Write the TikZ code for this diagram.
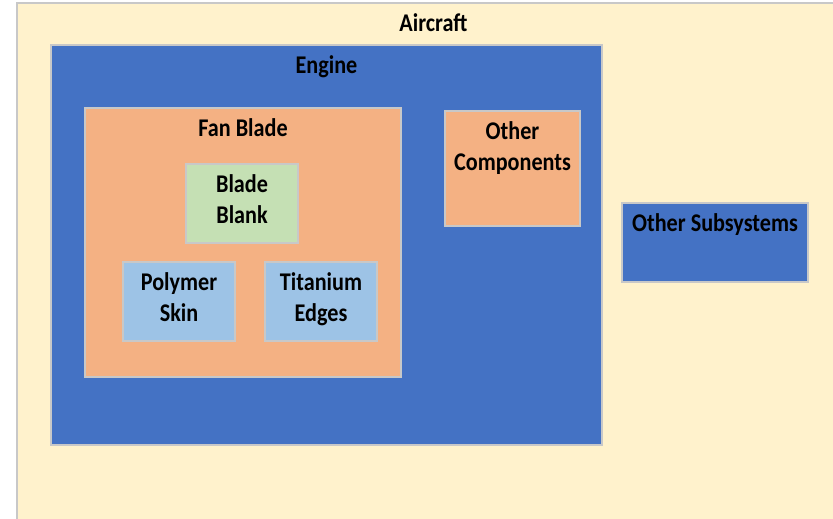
\documentclass[tikz,border=0pt]{standalone}
\usepackage{fontspec}
\setmainfont{Carlito}[FakeStretch=0.87]
\usepackage{xcolor}
\definecolor{accream}{RGB}{255,242,204}
\definecolor{acblue}{RGB}{68,114,196}
\definecolor{acorange}{RGB}{244,177,131}
\definecolor{acgreen}{RGB}{197,224,180}
\definecolor{aclightblue}{RGB}{157,195,230}
\definecolor{acedge}{RGB}{200,200,200}
\usetikzlibrary{positioning}

\tikzset{
  partbox/.style={draw=acedge,line width=0.6pt,rectangle,inner sep=0pt},
  boxtitle/.style={font=\fontsize{14.5}{18}\selectfont\bfseries,align=center,
    anchor=north,inner sep=0pt,yshift=-0.21cm}
}

\begin{document}
\begin{tikzpicture}
  \useasboundingbox (0,0) rectangle (16.66,-10.36);
  % nested boxes, outermost first
  \node[partbox,fill=accream,minimum width=16.66cm,minimum height=10.54cm,
    label={[boxtitle]north:Aircraft}] (aircraft) at (8.67,-5.33) {};
  \node[partbox,fill=acblue,minimum width=11.02cm,minimum height=8cm,
    label={[boxtitle]north:Engine}] (engine) at (6.53,-4.9) {};
  \node[partbox,fill=acblue,minimum width=3.72cm,minimum height=1.58cm,
    label={[boxtitle]north:Other Subsystems}] (subsys) at (14.3,-4.85) {};
  \node[partbox,fill=acorange,minimum width=6.32cm,minimum height=5.38cm,
    label={[boxtitle]north:Fan Blade}] (fanblade) at (4.86,-4.85) {};
  \node[partbox,fill=acorange,minimum width=2.7cm,minimum height=2.3cm,
    label={[boxtitle]north:Other\\Components}] (othercomp) at (10.25,-3.37) {};
  % parts of the fan blade
  \node[partbox,fill=acgreen,minimum width=2.24cm,minimum height=1.58cm,
    label={[boxtitle]north:Blade\\Blank}] (blank) at (4.84,-4.07) {};
  \node[partbox,fill=aclightblue,minimum width=2.24cm,minimum height=1.58cm,
    label={[boxtitle]north:Polymer\\Skin}] (skin) at (3.58,-6.03) {};
  \node[partbox,fill=aclightblue,minimum width=2.24cm,minimum height=1.58cm,
    label={[boxtitle]north:Titanium\\Edges}] (edges) at (6.42,-6.03) {};
\end{tikzpicture}
\end{document}
